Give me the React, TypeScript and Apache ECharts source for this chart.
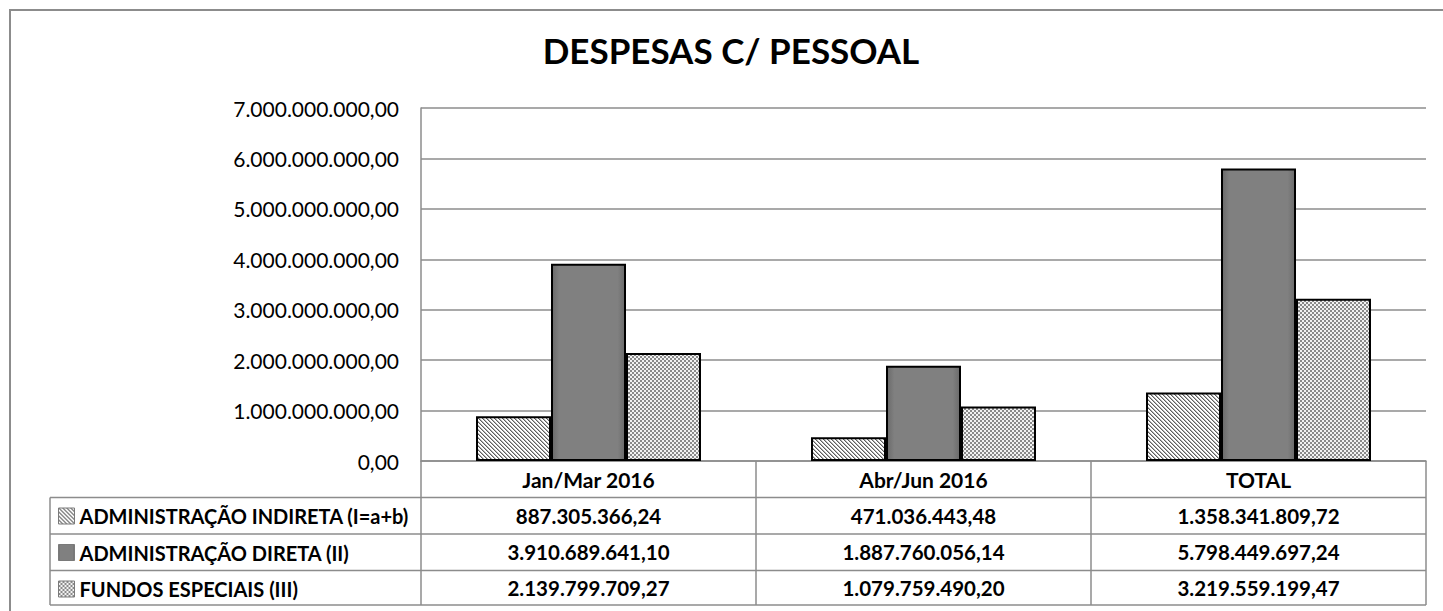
import { useEffect, useRef } from 'react';
import * as echarts from 'echarts';

const categories = ['Jan/Mar 2016', 'Abr/Jun 2016', 'TOTAL'];
const seriesNames = ['ADMINISTRAÇÃO INDIRETA (I=a+b)', 'ADMINISTRAÇÃO DIRETA (II)', 'FUNDOS ESPECIAIS (III)'];
const indireta = [887305366.24, 471036443.48, 1358341809.72];
const direta = [3910689641.1, 1887760056.14, 5798449697.24];
const fundos = [2139799709.27, 1079759490.2, 3219559199.47];
const yMin = 0;
const yMax = 7000000000;
const yStep = 1000000000;
const title = 'DESPESAS C/ PESSOAL';

const FONT = 'Lato, "Open Sans", sans-serif';
const GRID_LEFT = 421;
const GRID_RIGHT = 17;
const GRID_TOP = 108;
const GRID_BOTTOM = 150;
const ROW_LINES = [497.5, 534, 570.5, 605];
const TABLE_LEFT = 50;
const LINE_GRAY = '#8c8c8c';

function fmtBR(v: number): string {
  const fixed = Math.abs(v).toFixed(2);
  const [ip, dp] = fixed.split('.');
  const withDots = ip.replace(/\B(?=(\d{3})+(?!\d))/g, '.');
  return (v < 0 ? '-' : '') + withDots + ',' + dp;
}

function stripeCanvas() {
  const n = 4;
  const c = document.createElement('canvas');
  c.width = n; c.height = n;
  const ctx = c.getContext('2d')!;
  ctx.fillStyle = '#ffffff';
  ctx.fillRect(0, 0, n, n);
  for (let y = 0; y < n; y++) {
    for (let x = 0; x < n; x++) {
      const d = (((x - y) % n) + n) % n;
      if (d === 0) { ctx.fillStyle = '#5e5e5e'; ctx.fillRect(x, y, 1, 1); }
      else if (d === 1) { ctx.fillStyle = '#b4b4b4'; ctx.fillRect(x, y, 1, 1); }
    }
  }
  return c;
}

function checkerCanvas() {
  const n = 4;
  const c = document.createElement('canvas');
  c.width = n; c.height = n;
  const ctx = c.getContext('2d')!;
  for (let y = 0; y < n; y++) {
    for (let x = 0; x < n; x++) {
      const on = (Math.floor(x / 2) + Math.floor(y / 2)) % 2 === 0;
      ctx.fillStyle = on ? '#8a8a8a' : '#f2f2f2';
      ctx.fillRect(x, y, 1, 1);
    }
  }
  return c;
}

export default function App() {
  const ref = useRef<HTMLDivElement>(null);
  useEffect(() => {
    if (!ref.current) return;
    const chart = echarts.init(ref.current, undefined, { renderer: 'svg' });
    const stripe = { image: stripeCanvas(), repeat: 'repeat' } as any;
    const checker = { image: checkerCanvas(), repeat: 'repeat' } as any;
    const solid = new echarts.graphic.LinearGradient(0, 0, 1, 0, [
      { offset: 0, color: '#6a6a6a' },
      { offset: 0.1, color: '#808080' },
      { offset: 0.9, color: '#808080' },
      { offset: 1, color: '#6a6a6a' },
    ]);
    const fills = [stripe, solid, checker];
    const dataSets = [indireta, direta, fundos];

    chart.setOption({
      animation: false,
      backgroundColor: '#ffffff',
      title: {
        text: title,
        left: 731,
        textAlign: 'center',
        top: 32,
        padding: 0,
        textStyle: { fontFamily: FONT, fontSize: 35, fontWeight: 'bold', color: '#000' },
      },
      legend: {
        orient: 'vertical',
        left: 58,
        top: 506,
        padding: 0,
        itemWidth: 16,
        itemHeight: 16,
        itemGap: 16.5,
        itemTextGap: 3,
        icon: 'rect',
        selectedMode: false,
        itemStyle: { borderWidth: 1, borderColor: '#7a7a7a' },
        textStyle: { fontFamily: FONT, fontSize: 20, fontWeight: 'bold', color: '#000', lineHeight: 20 },
        data: seriesNames,
      },
      grid: { left: GRID_LEFT, right: GRID_RIGHT, top: GRID_TOP, bottom: GRID_BOTTOM, containLabel: false },
      xAxis: {
        type: 'category',
        data: categories,
        axisLine: { show: true, lineStyle: { color: LINE_GRAY, width: 1.5 } },
        axisTick: { show: true, interval: 0, length: 144, lineStyle: { color: LINE_GRAY, width: 1.5 } },
        axisLabel: {
          interval: 0, margin: 18, verticalAlign: 'middle',
          fontFamily: FONT, fontSize: 21, fontWeight: 'bold', color: '#000',
        },
      },
      yAxis: {
        type: 'value',
        min: yMin,
        max: yMax,
        interval: yStep,
        axisLine: { show: true, lineStyle: { color: LINE_GRAY, width: 1.5 } },
        axisTick: { show: false },
        splitLine: { lineStyle: { color: LINE_GRAY, width: 1.5 } },
        axisLabel: {
          margin: 22, fontFamily: FONT, fontSize: 21, color: '#000',
          formatter: (v: number) => fmtBR(v),
        },
      },
      series: dataSets.map((d, i) => ({
        name: seriesNames[i],
        type: 'bar',
        data: d,
        barWidth: 75,
        barGap: '0%',
        itemStyle: { color: fills[i], borderColor: '#000', borderWidth: 2 },
      })),
    });

    const centers = categories.map((c) => chart.convertToPixel({ xAxisIndex: 0 }, c) as number);
    const rowCenters = [0, 1, 2].map((r) => (ROW_LINES[r] + ROW_LINES[r + 1]) / 2);
    const rightEdge = 1443 - GRID_RIGHT;
    const graphics: any[] = [
      {
        type: 'rect', silent: true, z: -10,
        shape: { x: 10, y: 10, width: 1600, height: 800 },
        style: { fill: 'none', stroke: '#8c8c8c', lineWidth: 2 },
      },
      {
        type: 'line', silent: true,
        shape: { x1: TABLE_LEFT, y1: ROW_LINES[0], x2: TABLE_LEFT, y2: ROW_LINES[3] },
        style: { stroke: LINE_GRAY, lineWidth: 1.5 },
      },
      ...ROW_LINES.map((y) => ({
        type: 'line', silent: true,
        shape: { x1: TABLE_LEFT, y1: y, x2: rightEdge, y2: y },
        style: { stroke: LINE_GRAY, lineWidth: 1.5 },
      })),
    ];
    dataSets.forEach((d, r) => {
      d.forEach((v, ci) => {
        graphics.push({
          type: 'text', silent: true,
          x: centers[ci], y: rowCenters[r],
          style: {
            text: fmtBR(v), fill: '#000', align: 'center', verticalAlign: 'middle',
            font: `bold 20.5px ${FONT}`,
          },
        });
      });
    });
    chart.setOption({ graphic: graphics });

    return () => chart.dispose();
  }, []);
  return <div ref={ref} style={{ position: 'fixed', left: 0, top: 0, width: 1443, height: 611 }} />;
}
